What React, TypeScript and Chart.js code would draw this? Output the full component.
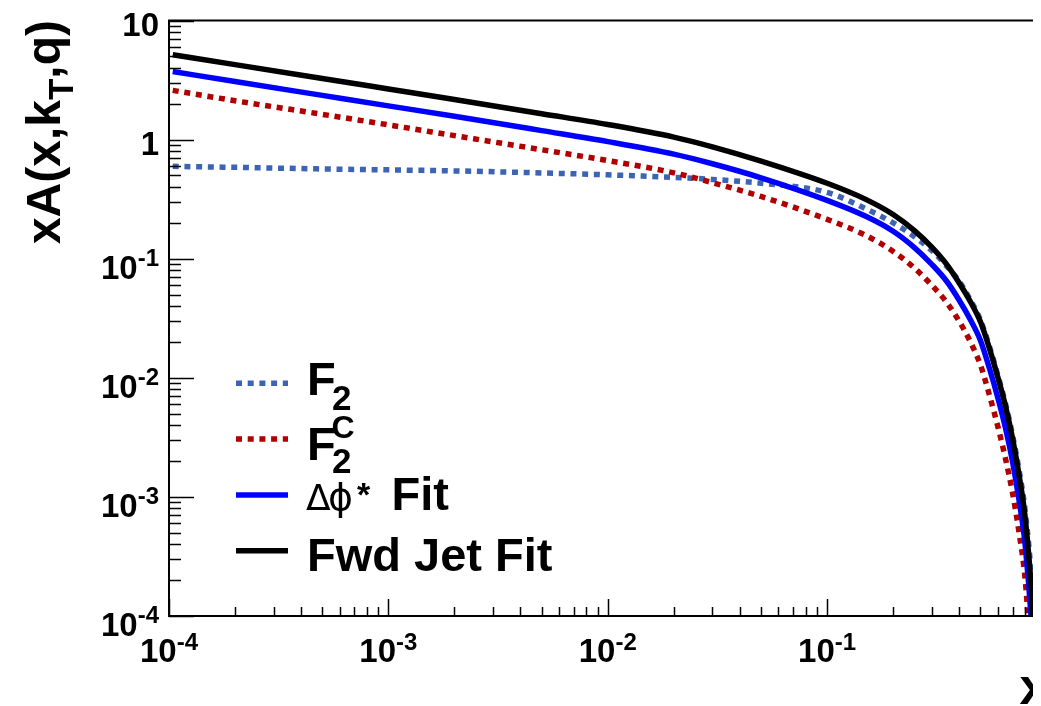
import React, { useEffect, useRef } from "react";
import { Chart, registerables } from "chart.js";

Chart.register(...registerables);

// ---- data ----
const xValues = [1.04e-4, 2e-4, 5e-4, 1e-3, 2e-3, 5e-3, 1e-2, 2e-2, 3e-2, 5e-2, 0.1, 0.15, 0.2, 0.25, 0.3, 0.35, 0.4, 0.45, 0.5, 0.55, 0.6, 0.65, 0.7, 0.75, 0.8, 0.86, 0.9];
const f2Values = [0.596, 0.585, 0.567, 0.557, 0.546, 0.525, 0.506, 0.482, 0.463, 0.43, 0.36, 0.263, 0.2, 0.153, 0.117, 0.087, 0.0645, 0.045, 0.0305, 0.0182, 0.0105, 0.0061, 0.0033, 0.00168, 0.00075, 0.00016, 0.00002];
const f2cValues = [2.59, 2.12, 1.63, 1.33, 1.08, 0.822, 0.667, 0.526, 0.435, 0.333, 0.214, 0.157, 0.115, 0.0835, 0.0598, 0.0432, 0.0298, 0.02, 0.0128, 0.0071, 0.0039, 0.0021, 0.00108, 0.0005, 0.0002, 0.00003, 0.00001];
const dphiFitValues = [3.73, 3.07, 2.35, 1.92, 1.57, 1.19, 0.962, 0.755, 0.627, 0.478, 0.309, 0.227, 0.17, 0.124, 0.0897, 0.065, 0.0448, 0.0307, 0.0206, 0.0119, 0.0068, 0.0038, 0.00198, 0.00093, 0.00039, 0.00007, 0.00001];
const fwdJetFitValues = [5.15, 4.26, 3.26, 2.66, 2.17, 1.65, 1.34, 1.05, 0.87, 0.66, 0.43, 0.315, 0.235, 0.172, 0.125, 0.09, 0.0625, 0.0435, 0.0295, 0.0175, 0.0101, 0.0058, 0.0031, 0.00152, 0.00066, 0.000136, 0.00003];

const seriesLabels = ["F2", "F2C", "Δϕ* Fit", "Fwd Jet Fit"];
const xTickValues = [1e-4, 1e-3, 1e-2, 1e-1, 1];
const xTickLabels: [string, string][] = [["10", "-4"], ["10", "-3"], ["10", "-2"], ["10", "-1"], ["1", ""]];
const yTickValues = [1e-4, 1e-3, 1e-2, 1e-1, 1, 10];
const yTickLabels: [string, string][] = [["10", "-4"], ["10", "-3"], ["10", "-2"], ["10", "-1"], ["1", ""], ["10", ""]];

// canvas fills the visible page (8px body margin); the x axis continues past the right edge
const W = 1033;
const H = 698;
const PLOT_LEFT = 161;
const PLOT_TOP = 12.5;
const PLOT_BOTTOM = 608;
const X_ONE_PX = 1038.5; // where x = 1 would sit (just outside the visible page)
const DECADE_PX = (X_ONE_PX - PLOT_LEFT) / 4;
const X_MAX = Math.pow(10, -4 + (W - PLOT_LEFT) / DECADE_PX);

const FONT = '"Liberation Sans", Arial, Helvetica, sans-serif';
const bold = (s: number) => `bold ${s}px ${FONT}`;
const regular = (s: number) => `${s}px "DejaVu Sans", "Liberation Sans", sans-serif`;

const COLORS = { f2: "#3d64b4", f2c: "#b00000", dphi: "#0000ff", fwd: "#000000" };
const DOT = [6, 5.7];

type Part = { t: string; font: string; dy?: number; x?: number };

function drawParts(ctx: CanvasRenderingContext2D, parts: Part[], x: number, y: number) {
  let cx = x;
  for (const p of parts) {
    ctx.font = p.font;
    const px = p.x !== undefined ? p.x : cx;
    ctx.fillText(p.t, px, y + (p.dy || 0));
    cx = px + ctx.measureText(p.t).width;
  }
}
function partsWidth(ctx: CanvasRenderingContext2D, parts: Part[]) {
  let w = 0;
  for (const p of parts) {
    ctx.font = p.font;
    w += ctx.measureText(p.t).width;
  }
  return w;
}

const rootFrame = {
  id: "rootFrame",
  afterDraw(chart: any) {
    const { ctx, chartArea: ca, scales } = chart;
    const xs = scales.x;
    const ys = scales.y;
    const xRight = xs.getPixelForValue(1);
    ctx.save();
    ctx.strokeStyle = "#000";
    ctx.fillStyle = "#000";
    ctx.lineWidth = 2;
    ctx.setLineDash([]);
    ctx.beginPath();
    ctx.moveTo(xRight, ca.top);
    ctx.lineTo(ca.left, ca.top);
    ctx.lineTo(ca.left, ca.bottom);
    ctx.lineTo(xRight, ca.bottom);
    ctx.stroke();

    // ticks
    ctx.lineWidth = 1.5;
    ctx.beginPath();
    for (let d = -4; d <= 0; d++) {
      for (let m = 1; m <= 9; m++) {
        const v = m * Math.pow(10, d);
        if (v > 1.0001) break;
        const px = Math.round(xs.getPixelForValue(v)) + 0.5;
        const len = m === 1 ? 17 : 9;
        ctx.moveTo(px, ca.bottom);
        ctx.lineTo(px, ca.bottom - len);
      }
    }
    for (let d = -4; d <= 1; d++) {
      for (let m = 1; m <= 9; m++) {
        const v = m * Math.pow(10, d);
        if (v > 10.0001) break;
        const py = Math.round(ys.getPixelForValue(v)) + 0.5;
        const len = m === 1 ? 25 : 12;
        ctx.moveTo(ca.left, py);
        ctx.lineTo(ca.left + len, py);
      }
    }
    ctx.stroke();

    // x tick labels
    ctx.textBaseline = "alphabetic";
    ctx.textAlign = "left";
    xTickValues.forEach((v, i) => {
      const [b, s] = xTickLabels[i];
      const parts: Part[] = [{ t: b, font: bold(33) }];
      if (s) parts.push({ t: s, font: bold(24), dy: -12 });
      const w = partsWidth(ctx, parts);
      const px = xs.getPixelForValue(v);
      drawParts(ctx, parts, px - w / 2, ca.bottom + 45.5);
    });
    // y tick labels
    yTickValues.forEach((v, i) => {
      const [b, s] = yTickLabels[i];
      const parts: Part[] = [{ t: b, font: bold(33) }];
      if (s) parts.push({ t: s, font: bold(24), dy: -13 });
      const w = partsWidth(ctx, parts);
      const py = ys.getPixelForValue(v);
      drawParts(ctx, parts, ca.left - 10 - w, py + (s ? 20 : 15));
    });

    // axis titles
    ctx.save();
    const yt: Part[] = [
      { t: "xA(x,k", font: bold(48) },
      { t: "T", font: bold(35), dy: 13 },
      { t: ",q)", font: bold(48) },
    ];
    const ytw = partsWidth(ctx, yt);
    ctx.translate(52, 12);
    ctx.rotate(-Math.PI / 2);
    drawParts(ctx, yt, -ytw, 0);
    ctx.restore();
    ctx.font = bold(52);
    ctx.textAlign = "right";
    ctx.fillText("x", xRight + 2, 696);
    ctx.textAlign = "left";

    // legend
    const lx0 = 228, lx1 = 280;
    const rows = [
      { y: 375.3, color: COLORS.f2, dash: DOT },
      { y: 431, color: COLORS.f2c, dash: DOT },
      { y: 487, color: COLORS.dphi, dash: [] as number[] },
      { y: 542.7, color: COLORS.fwd, dash: [] as number[] },
    ];
    rows.forEach((r) => {
      ctx.strokeStyle = r.color;
      ctx.lineWidth = 5.5;
      ctx.setLineDash(r.dash);
      ctx.beginPath();
      ctx.moveTo(lx0, r.y);
      ctx.lineTo(lx1, r.y);
      ctx.stroke();
    });
    ctx.setLineDash([]);
    ctx.fillStyle = "#000";
    const tx = 299;
    drawParts(ctx, [{ t: "F", font: bold(47) }, { t: "2", font: bold(35), dy: 15, x: 324 }], tx, 387);
    drawParts(ctx, [{ t: "F", font: bold(47) }], tx, 452);
    drawParts(ctx, [{ t: "C", font: bold(32) }], 323.5, 430);
    drawParts(ctx, [{ t: "2", font: bold(35) }], 324, 465);
    drawParts(ctx, [
      { t: "Δ", font: regular(36) },
      { t: "ϕ", font: regular(38), x: 320 },
      { t: "*", font: bold(34), x: 349, dy: -4 },
      { t: "Fit", font: bold(47), x: 383.5 },
    ], 298, 502);
    drawParts(ctx, [{ t: "Fwd Jet Fit", font: bold(47) }], tx, 563);
    ctx.restore();
  },
};

function mk(label: string, values: number[], color: string, dash: number[], order: number) {
  return {
    label,
    data: xValues.map((x, i) => ({ x, y: values[i] })),
    borderColor: color,
    backgroundColor: color,
    borderWidth: 5.5,
    borderDash: dash,
    borderCapStyle: "butt" as const,
    pointRadius: 0,
    fill: false,
    cubicInterpolationMode: "monotone" as const,
    clip: 0,
    order,
  };
}

export default function App() {
  const ref = useRef<HTMLCanvasElement | null>(null);
  useEffect(() => {
    document.documentElement.style.overflow = "hidden";
    document.body.style.overflow = "hidden";
    if (!ref.current) return;
    const chart = new Chart(ref.current, {
      type: "line",
      data: {
        datasets: [
          mk(seriesLabels[0], f2Values, COLORS.f2, DOT, 4),
          mk(seriesLabels[1], f2cValues, COLORS.f2c, DOT, 3),
          mk(seriesLabels[2], dphiFitValues, COLORS.dphi, [], 2),
          mk(seriesLabels[3], fwdJetFitValues, COLORS.fwd, [], 1),
        ] as any,
      },
      options: {
        animation: false,
        responsive: false,
        maintainAspectRatio: false,
        layout: {
          padding: ((c: any) => ({
            left: PLOT_LEFT,
            top: PLOT_TOP,
            right: 0,
            bottom: c.chart.height - PLOT_BOTTOM,
          })) as any,
        },
        plugins: { legend: { display: false }, tooltip: { enabled: false } },
        scales: {
          x: { type: "logarithmic", min: 1e-4, max: X_MAX, display: false },
          y: { type: "logarithmic", min: 1e-4, max: 10, display: false },
        },
      },
      plugins: [rootFrame],
    });
    return () => chart.destroy();
  }, []);
  return (
    <div style={{ width: W, height: H, position: "relative" }}>
      <canvas ref={ref} width={W} height={H} style={{ display: "block", width: W, height: H }} />
    </div>
  );
}
